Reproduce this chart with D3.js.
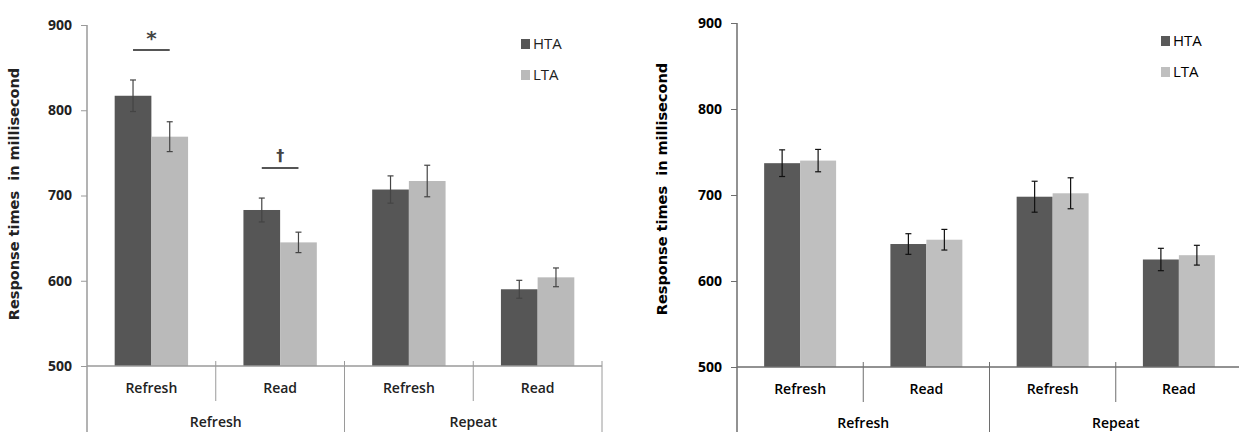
<!DOCTYPE html>
<html>
<head>
<meta charset="utf-8">
<script src="https://cdn.jsdelivr.net/npm/d3@7"></script>
<style>
  html, body { margin: 0; padding: 0; background: #fff; }
  svg { display: block; }
</style>
</head>
<body>
<svg id="chart" width="1239" height="432"></svg>
<script>
// ---------- data ----------
const outerCategories = ["Refresh", "Repeat"];
const innerCategories = ["Refresh", "Read"];
const seriesNames = ["HTA", "LTA"];
const yTicks = [500, 600, 700, 800, 900];
const yTitle = "Response times  in millisecond";

// Left panel (means and error half-widths, order: Refresh/Refresh, Refresh/Read, Repeat/Refresh, Repeat/Read)
const leftHTA = [817, 683, 707, 590];
const leftHTAErr = [18.5, 14, 16, 10.5];
const leftLTA = [769, 645, 717, 604];
const leftLTAErr = [17.5, 12, 18.5, 11];
const leftSignif = [{ group: 0, mark: "*" }, { group: 1, mark: "\u2020" }];

// Right panel
const rightHTA = [737, 643, 698, 625];
const rightHTAErr = [15.5, 12, 18, 13];
const rightLTA = [740, 648, 702, 630];
const rightLTAErr = [13, 12, 18, 11.5];

// ---------- drawing ----------
const svg = d3.select("#chart");

function drawPanel(cfg) {
  const g = svg.append("g");
  const groups = [];
  outerCategories.forEach(o => innerCategories.forEach(i => groups.push(o + "|" + i)));

  const x = d3.scaleBand().domain(groups).range([cfg.x0, cfg.x1]).padding(0);
  const y = d3.scaleLinear().domain([500, 900]).range([cfg.yBottom, cfg.yTop]);
  const bw = x.bandwidth() * 0.285;
  const y0 = y(500);

  const rows = groups.map((key, k) => ({
    key,
    vals: [
      { s: "HTA", v: cfg.hta[k], e: cfg.htaErr[k] },
      { s: "LTA", v: cfg.lta[k], e: cfg.ltaErr[k] }
    ]
  }));

  const color = d3.scaleOrdinal().domain(seriesNames).range(cfg.colors);

  // bars
  rows.forEach(r => {
    const cx = x(r.key) + x.bandwidth() / 2;
    r.vals.forEach((d, j) => {
      const bx = j === 0 ? cx - bw : cx;
      g.append("rect")
        .attr("x", bx).attr("width", bw)
        .attr("y", y(d.v)).attr("height", y0 - y(d.v))
        .attr("fill", color(d.s));
      const ex = bx + bw / 2;
      g.append("line").attr("x1", ex).attr("x2", ex)
        .attr("y1", y(d.v + d.e)).attr("y2", y(d.v - d.e))
        .attr("stroke", cfg.errColor).attr("stroke-width", 1.2);
      [d.v + d.e, d.v - d.e].forEach(val => {
        g.append("line").attr("x1", ex - 3).attr("x2", ex + 3)
          .attr("y1", y(val)).attr("y2", y(val))
          .attr("stroke", cfg.errColor).attr("stroke-width", 1.2);
      });
    });
  });

  // y axis
  const yAxis = d3.axisLeft(y).tickValues(yTicks).tickSize(6).tickPadding(9).tickFormat(d3.format("d"));
  const ya = g.append("g").attr("transform", `translate(${cfg.x0},0)`).call(yAxis);
  ya.select(".domain").remove();
  ya.selectAll(".tick line").attr("stroke", cfg.axisColor);
  ya.selectAll(".tick text")
    .attr("font-family", "'Open Sans', sans-serif").attr("font-weight", 700)
    .attr("font-size", 14).attr("fill", cfg.textColor);
  g.append("line").attr("x1", cfg.x0).attr("x2", cfg.x0)
    .attr("y1", cfg.yTop).attr("y2", 432)
    .attr("stroke", cfg.axisColor).attr("stroke-width", 1.5);

  // baseline
  g.append("line").attr("x1", cfg.x0).attr("x2", cfg.x1)
    .attr("y1", y0).attr("y2", y0)
    .attr("stroke", cfg.axisColor).attr("stroke-width", 1.5);

  // dividers
  groups.forEach((key, k) => {
    if (k === 0) return;
    const dx = x(key);
    const major = k % innerCategories.length === 0;
    g.append("line").attr("x1", dx).attr("x2", dx)
      .attr("y1", y0 - 5).attr("y2", major ? 432 : y0 + 35)
      .attr("stroke", cfg.axisColor).attr("stroke-width", 1);
  });
  g.append("line").attr("x1", cfg.x1).attr("x2", cfg.x1)
    .attr("y1", y0 - 5).attr("y2", 432)
    .attr("stroke", cfg.axisColor).attr("stroke-width", 1);

  // inner labels
  groups.forEach(key => {
    g.append("text")
      .attr("x", x(key) + x.bandwidth() / 2).attr("y", y0 + 27)
      .attr("text-anchor", "middle")
      .attr("font-family", "'Open Sans', sans-serif").attr("font-weight", 600)
      .attr("font-size", 14).attr("fill", cfg.textColor)
      .text(key.split("|")[1]);
  });
  // outer labels
  outerCategories.forEach((o, k) => {
    const first = x(o + "|" + innerCategories[0]);
    const last = x(o + "|" + innerCategories[innerCategories.length - 1]) + x.bandwidth();
    g.append("text")
      .attr("x", (first + last) / 2).attr("y", y0 + 61)
      .attr("text-anchor", "middle")
      .attr("font-family", "'Open Sans', sans-serif").attr("font-weight", 600)
      .attr("font-size", 14).attr("fill", cfg.textColor)
      .text(o);
  });

  // y title
  g.append("text")
    .attr("transform", `translate(${cfg.titleX},${cfg.titleY}) rotate(-90)`)
    .attr("text-anchor", "middle")
    .attr("font-family", "'DejaVu Sans', sans-serif").attr("font-weight", 700)
    .attr("font-size", 14.5).attr("fill", cfg.textColor)
    .style("white-space", "pre")
    .text(yTitle);

  // legend
  seriesNames.forEach((s, j) => {
    const ly = cfg.legendY + j * 31;
    g.append("rect").attr("x", cfg.legendX).attr("y", ly).attr("width", 9).attr("height", 10)
      .attr("fill", color(s));
    g.append("text").attr("x", cfg.legendX + 12).attr("y", ly + 10)
      .attr("font-family", "'Open Sans', sans-serif").attr("font-size", 15)
      .attr("fill", cfg.textColor).text(s);
  });

  // significance markers
  (cfg.signif || []).forEach(sg => {
    const key = groups[sg.group];
    const cx = x(key) + x.bandwidth() / 2;
    const top = Math.max(cfg.hta[sg.group] + cfg.htaErr[sg.group], cfg.lta[sg.group] + cfg.ltaErr[sg.group]);
    const ly = y(top) - 30;
    g.append("line").attr("x1", cx - bw / 2).attr("x2", cx + bw / 2)
      .attr("y1", ly).attr("y2", ly)
      .attr("stroke", "#555").attr("stroke-width", 2);
    const isStar = sg.mark === "*";
    g.append("text").attr("x", cx).attr("y", ly - (isStar ? 5 : 7))
      .attr("text-anchor", "middle")
      .attr("font-family", "'DejaVu Sans', sans-serif").attr("font-weight", 700)
      .attr("font-size", isStar ? 20 : 16)
      .attr("fill", "#444").text(sg.mark);
  });
}

drawPanel({
  x0: 87, x1: 602, yTop: 25, yBottom: 366,
  hta: leftHTA, htaErr: leftHTAErr, lta: leftLTA, ltaErr: leftLTAErr,
  colors: ["#565656", "#bababa"], errColor: "#444", axisColor: "#9a9a9a", textColor: "#222",
  titleX: 19, titleY: 194, legendX: 521, legendY: 39, signif: leftSignif
});

drawPanel({
  x0: 737, x1: 1242, yTop: 23, yBottom: 367,
  hta: rightHTA, htaErr: rightHTAErr, lta: rightLTA, ltaErr: rightLTAErr,
  colors: ["#595959", "#bfbfbf"], errColor: "#111", axisColor: "#6e6e6e", textColor: "#000",
  titleX: 667, titleY: 189, legendX: 1161, legendY: 36
});
</script>
</body>
</html>
